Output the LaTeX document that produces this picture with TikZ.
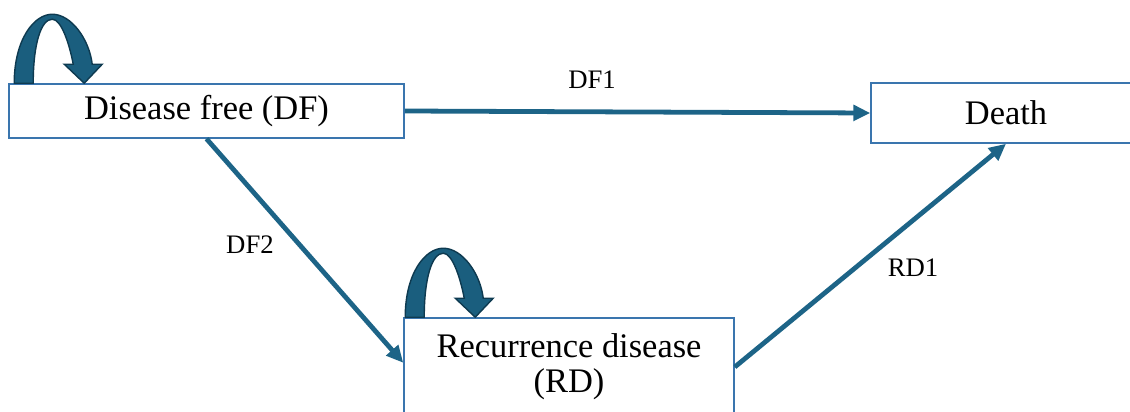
\documentclass[tikz,border=0pt]{standalone}
\usepackage{fontspec}
\setmainfont{Liberation Serif}
\usepackage{tikz}
\usetikzlibrary{arrows.meta, positioning, calc}
\definecolor{LinkTeal}{HTML}{1D6487}
\definecolor{LoopTeal}{HTML}{1A5E7E}
\definecolor{LoopEdge}{HTML}{0E3A50}
\definecolor{BoxBlue}{HTML}{3A75AE}

\begin{document}
\begin{tikzpicture}[x=0.025cm, y=-0.025cm, >={Triangle[length=12pt, width=11pt]},
    statebox/.style={draw=BoxBlue, line width=1.1pt, fill=white, inner sep=0pt,
      font=\fontsize{24.5}{25}\selectfont, align=center},
    link/.style={->, LinkTeal, line width=3.4pt},
    linklabel/.style={font=\fontsize{19}{22}\selectfont},
    selfloop/.pic={
      \filldraw[fill=LoopTeal, draw=LoopEdge, line width=1pt]
        (0,0) .. controls (0,-44) and (20,-69) .. (38,-69)
        .. controls (57,-69) and (75,-44) .. (78,-19)
        -- (88,-19) -- (70,0) -- (50,-19) -- (59,-19)
        .. controls (55,-40) and (47,-64) .. (38,-64)
        .. controls (27,-64) and (19,-40) .. (19,0) -- cycle;
    }]
  \useasboundingbox (0,0) rectangle (1130,412);
  % States
  \node[statebox, minimum width=395*0.025cm, minimum height=54*0.025cm] (DF) at (206.5,111) {Disease free (DF)};
  \node[statebox, minimum width=270*0.025cm, minimum height=60*0.025cm] (Death) at (1006,113) {Death};
  \node[statebox, minimum width=330*0.025cm, minimum height=98*0.025cm] (RD) at (569,367) {Recurrence disease\\(RD)};
  % Self transitions
  \pic at ($(DF.north west)+(6,0)$) {selfloop};
  \pic at ($(RD.north west)+(2,0)$) {selfloop};
  % Transitions between states
  \draw[link] (DF.east) -- (Death.west);
  \draw[link] (DF.south) -- ([yshift=3pt]RD.west);
  \draw[link] (RD.east) -- (Death.south);
  \node[linklabel] (lDF1) at (592,80) {DF1};
  \node[linklabel] (lDF2) at (250,245) {DF2};
  \node[linklabel] (lRD1) at (913,268) {RD1};
\end{tikzpicture}
\end{document}
